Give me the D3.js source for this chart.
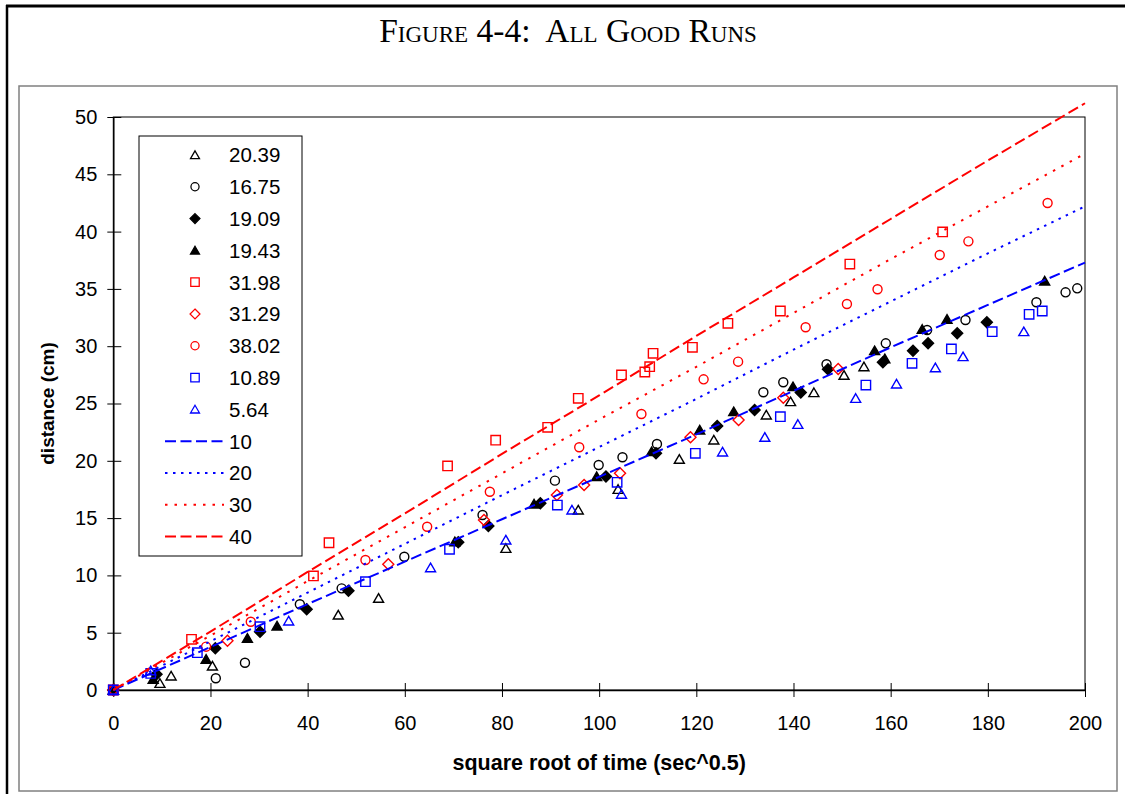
<!DOCTYPE html>
<html>
<head>
<meta charset="utf-8">
<script src="https://cdn.jsdelivr.net/npm/d3@7"></script>
<style>
  body { margin: 0; background: #fff; }
  svg text { font-family: Arial, "Liberation Sans", sans-serif; fill: #000; }
</style>
</head>
<body>
<svg id="chart" width="1125" height="794"></svg>
<script>
// ---- tick labels ----
const xTickValues = [0, 20, 40, 60, 80, 100, 120, 140, 160, 180, 200];
const yTickValues = [0, 5, 10, 15, 20, 25, 30, 35, 40, 45, 50];

// ---- measured runs: [sqrt(time), distance] ----
const run2039 = [[0,0],[9.6,0.58],[11.9,1.22],[20.4,2.09],[46.3,6.54],[54.6,8.0],[80.8,12.36],
  [95.7,15.71],[103.9,17.51],[116.5,20.13],[123.6,21.82],[134.4,24.0],[139.4,25.16],
  [144.2,25.95],[150.4,27.46],[154.5,28.21]];
const run1675 = [[0,0],[21.1,1.02],[27.1,2.38],[38.4,7.48],[47.0,8.87],[59.9,11.63],[76.0,15.27],
  [90.9,18.27],[99.9,19.63],[104.8,20.31],[111.9,21.47],[133.8,25.98],[137.9,26.85],
  [146.8,28.42],[159.0,30.25],[167.5,31.41],[175.4,32.29],[190.0,33.83],[196.0,34.7],[198.4,35.05]];
const run1909 = [[0,0],[8.9,1.37],[21.0,3.64],[30.2,5.09],[39.8,7.04],[48.4,8.67],[71.0,12.9],
  [77.2,14.31],[87.9,16.29],[101.4,18.62],[111.7,20.65],[124.3,23.04],[132.0,24.43],
  [141.5,25.95],[147.1,27.98],[158.4,28.6],[164.6,29.61],[167.7,30.25],[173.7,31.13],[179.8,32.09]];
const run1943 = [[0,0],[8.2,0.93],[19.1,2.68],[27.6,4.51],[33.7,5.58],[70.3,12.94],[86.6,16.23],
  [99.5,18.62],[110.8,20.8],[120.7,22.69],[127.7,24.29],[139.9,26.47],[156.7,29.61],
  [158.8,28.9],[166.5,31.47],[171.6,32.35],[191.7,35.69]];
const run3198 = [[0,0],[16.1,4.42],[41.2,9.95],[44.4,12.85],[68.8,19.55],[78.7,21.8],[89.4,22.92],
  [95.7,25.45],[104.6,27.49],[109.4,27.75],[110.4,28.21],[111.1,29.38],[119.2,29.9],
  [126.5,32.0],[137.3,33.07],[151.6,37.17],[170.7,39.97]];
const run3129 = [[0,0],[23.5,4.3],[56.6,10.97],[76.3,14.83],[91.3,17.02],[96.9,17.89],[104.3,18.91],
  [118.8,22.05],[128.7,23.56],[137.9,25.51],[149.2,28.01]];
const run3802 = [[0,0],[19.1,3.78],[28.3,5.96],[51.9,11.34],[64.6,14.25],[77.5,17.3],[95.9,21.18],
  [108.7,24.08],[121.5,27.11],[128.6,28.65],[142.5,31.65],[151.0,33.68],[157.3,34.97],
  [170.1,37.96],[176.0,39.15],[192.3,42.5]];
const run1089 = [[0,0],[7.7,1.45],[17.3,3.26],[30.2,5.53],[51.9,9.45],[69.2,12.28],[91.4,16.14],
  [103.7,18.12],[119.8,20.65],[137.3,23.85],[154.9,26.61],[164.4,28.51],[172.5,29.76],
  [180.9,31.27],[188.5,32.78],[191.2,33.07]];
const run564 = [[0,0],[7.7,1.68],[36.1,6.02],[65.3,10.67],[80.8,13.09],[94.4,15.71],[104.6,17.08],
  [125.4,20.77],[134.1,22.05],[140.9,23.18],[152.8,25.45],[161.2,26.7],[169.2,28.12],
  [174.9,29.09],[187.4,31.27]];

// ---- model curves ----
const modelX  = [0, 20, 40, 60, 80, 100, 120, 140, 160, 180, 200];
const model10 = [0, 3.75, 7.5, 11.2, 14.9, 18.6, 22.3, 26.1, 29.9, 33.6, 37.3];
const model20 = [0, 4.25, 8.5, 12.75, 17.0, 21.2, 25.4, 29.7, 33.9, 38.1, 42.2];
const model30 = [0, 4.75, 9.5, 14.2, 18.9, 23.6, 28.2, 32.9, 37.6, 42.2, 46.8];
const model40 = [0, 5.1, 10.3, 15.4, 20.6, 25.7, 30.9, 36.0, 41.1, 46.2, 51.2];

const markerSeries = [
  { label: "20.39", data: run2039, shape: "triangle", color: "#000000", filled: false },
  { label: "16.75", data: run1675, shape: "circle",   color: "#000000", filled: false },
  { label: "19.09", data: run1909, shape: "diamond",  color: "#000000", filled: true  },
  { label: "19.43", data: run1943, shape: "triangle", color: "#000000", filled: true  },
  { label: "31.98", data: run3198, shape: "square",   color: "#ff0000", filled: false },
  { label: "31.29", data: run3129, shape: "diamond",  color: "#ff0000", filled: false },
  { label: "38.02", data: run3802, shape: "circle",   color: "#ff0000", filled: false },
  { label: "10.89", data: run1089, shape: "square",   color: "#0000ff", filled: false },
  { label: "5.64",  data: run564,  shape: "triangle", color: "#0000ff", filled: false }
];
const lineSeries = [
  { label: "10", ys: model10, color: "#0000ff", dash: "11,4.5" },
  { label: "20", ys: model20, color: "#0000ff", dash: "2.5,5.5" },
  { label: "30", ys: model30, color: "#ff0000", dash: "2.5,7" },
  { label: "40", ys: model40, color: "#ff0000", dash: "11,4.5" }
];

const svg = d3.select("#chart");

// page frame and chart-area box
svg.append("line").attr("x1", 6).attr("x2", 1125).attr("y1", 6).attr("y2", 6)
  .attr("stroke", "#000").attr("stroke-width", 3);
svg.append("line").attr("x1", 7).attr("x2", 7).attr("y1", 5).attr("y2", 794)
  .attr("stroke", "#000").attr("stroke-width", 2.5);
svg.append("rect").attr("x", 19).attr("y", 86).attr("width", 1098).attr("height", 705)
  .attr("fill", "none").attr("stroke", "#808080").attr("stroke-width", 1.5);

// title (small caps)
svg.append("text")
  .attr("x", 568).attr("y", 42)
  .attr("text-anchor", "middle")
  .style("font-family", "'Liberation Serif', 'Times New Roman', serif")
  .style("font-variant", "small-caps")
  .style("font-size", "33.5px")
  .style("white-space", "pre")
  .text("Figure 4-4:  All Good Runs");

// scales
const x = d3.scaleLinear().domain([0, 200]).range([113.3, 1085]);
const y = d3.scaleLinear().domain([0, 50]).range([690, 117]);

// plot area border
svg.append("rect").attr("x", x(0)).attr("y", y(50))
  .attr("width", x(200) - x(0)).attr("height", y(0) - y(50))
  .attr("fill", "none").attr("stroke", "#000").attr("stroke-width", 1);

// axes with crossing tick marks
const yAxis = d3.axisLeft(y).tickValues(yTickValues).tickSize(6).tickSizeOuter(0).tickPadding(10);
const gy = svg.append("g").attr("transform", `translate(${x(0)},0)`).call(yAxis);
gy.selectAll(".tick line").attr("x1", 8);
gy.select(".domain").attr("stroke-width", 1.5);
gy.selectAll("text").attr("font-size", 20).attr("font-family", "Arial, 'Liberation Sans', sans-serif");

const xAxis = d3.axisBottom(x).tickValues(xTickValues).tickSize(7).tickSizeOuter(0).tickPadding(19);
const gx = svg.append("g").attr("transform", `translate(0,${y(0)})`).call(xAxis);
gx.selectAll(".tick line").attr("y1", -7);
gx.select(".domain").attr("stroke-width", 1.5);
gx.selectAll("text").attr("font-size", 20).attr("font-family", "Arial, 'Liberation Sans', sans-serif");

// axis titles
svg.append("text").attr("x", (x(0) + x(200)) / 2).attr("y", 770)
  .attr("text-anchor", "middle").attr("font-weight", "bold").attr("font-size", 21.5)
  .text("square root of time (sec^0.5)");
svg.append("text").attr("transform", `translate(54,${(y(0) + y(50)) / 2}) rotate(-90)`)
  .attr("text-anchor", "middle").attr("font-weight", "bold").attr("font-size", 19)
  .text("distance (cm)");

// marker shapes
function markerPath(shape) {
  switch (shape) {
    case "triangle": return "M0,-4.6L5,4L-5,4Z";
    case "square":   return "M-4.7,-4.7H4.7V4.7H-4.7Z";
    case "diamond":  return "M0,-5.5L5.5,0L0,5.5L-5.5,0Z";
    default:         return d3.symbol(d3.symbolCircle, 64)();
  }
}

// scatter series
const plot = svg.append("g");
markerSeries.forEach(s => {
  plot.append("g").selectAll("path").data(s.data).join("path")
    .attr("d", markerPath(s.shape))
    .attr("transform", d => `translate(${x(d[0])},${y(d[1])})`)
    .attr("fill", s.filled ? s.color : "none")
    .attr("stroke", s.color)
    .attr("stroke-width", 1.4);
});

// model curves
const lineGen = d3.line().x(d => x(d[0])).y(d => y(d[1]));
lineSeries.forEach(s => {
  const pts = modelX.map((v, i) => [v, s.ys[i]]);
  plot.append("path").datum(pts)
    .attr("d", lineGen)
    .attr("fill", "none")
    .attr("stroke", s.color)
    .attr("stroke-width", 2)
    .attr("stroke-dasharray", s.dash);
});

// legend
const legend = svg.append("g");
legend.append("rect").attr("x", 139).attr("y", 136).attr("width", 163).attr("height", 420)
  .attr("fill", "#fff").attr("stroke", "#000").attr("stroke-width", 1);
const rowY = i => 155 + i * 31.8;
markerSeries.forEach((s, i) => {
  legend.append("path").attr("d", markerPath(s.shape))
    .attr("transform", `translate(195,${rowY(i)}) scale(0.9)`)
    .attr("fill", s.filled ? s.color : "none")
    .attr("stroke", s.color).attr("stroke-width", 1.4);
  legend.append("text").attr("x", 229).attr("y", rowY(i)).attr("dy", "0.36em")
    .attr("font-size", 20.5).text(s.label);
});
lineSeries.forEach((s, j) => {
  const i = markerSeries.length + j;
  legend.append("line").attr("x1", 165).attr("x2", 224).attr("y1", rowY(i)).attr("y2", rowY(i))
    .attr("stroke", s.color).attr("stroke-width", 2).attr("stroke-dasharray", s.dash);
  legend.append("text").attr("x", 229).attr("y", rowY(i)).attr("dy", "0.36em")
    .attr("font-size", 20.5).text(s.label);
});
</script>
</body>
</html>
